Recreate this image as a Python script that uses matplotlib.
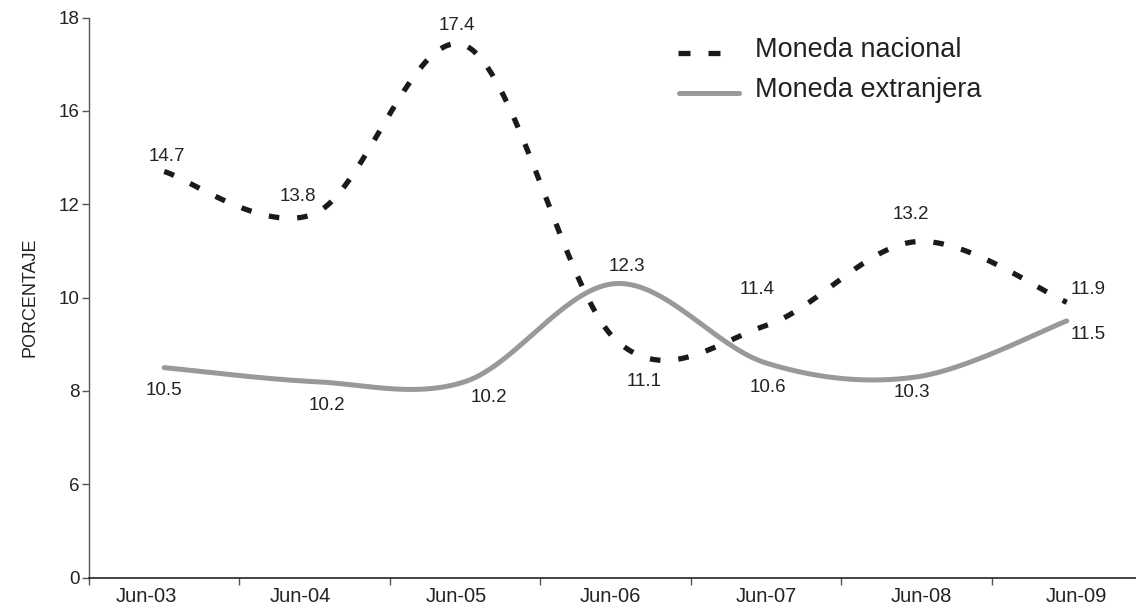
import numpy as np
import matplotlib
matplotlib.use("Agg")
import matplotlib.pyplot as plt
from matplotlib.lines import Line2D

plt.rcParams['font.family'] = ['Liberation Sans', 'DejaVu Sans']

categories = ["Jun-03", "Jun-04", "Jun-05", "Jun-06", "Jun-07", "Jun-08", "Jun-09"]
nacional = [14.7, 13.8, 17.4, 11.1, 11.4, 13.2, 11.9]
extranjera = [10.5, 10.2, 10.2, 12.3, 10.6, 10.3, 11.5]
ytick_pos = [6, 8, 10, 12, 14, 16, 18]
ytick_labels = ["0", "6", "8", "10", "12", "16", "18"]

# label offsets in pixels (dx, dy up) -- layout only
nac_off = [(3, 15), (-17, 17), (-8, 20), (29, -42), (-9, 36), (-5, 27), (21, 13)]
ext_off = [(0, -23), (12, -24), (24, -16), (11, 17), (2, -25), (-4, -16), (21, -14)]
# x positions (pixels) of the category labels -- layout only
xlabel_px = [146, 300, 456, 610, 766, 921, 1076]


def smooth(xs, ys, n=60):
    xs = np.asarray(xs, float)
    ys = np.asarray(ys, float)
    P = np.column_stack([xs, ys])
    out = []
    m = len(P)
    for i in range(m - 1):
        p0 = P[i - 1] if i > 0 else P[i]
        p1 = P[i]
        p2 = P[i + 1]
        p3 = P[i + 2] if i + 2 < m else P[i + 1]
        c1 = p1 + (p2 - p0) / 6.0
        c2 = p2 - (p3 - p1) / 6.0
        t = np.linspace(0, 1, n)[:, None]
        seg = ((1 - t) ** 3) * p1 + 3 * ((1 - t) ** 2) * t * c1 + 3 * (1 - t) * t ** 2 * c2 + t ** 3 * p2
        if i > 0:
            seg = seg[1:]
        out.append(seg)
    out = np.vstack(out)
    return out[:, 0], out[:, 1]


W, H = 1136, 610
PT = 0.72  # points per pixel at dpi 100
fig = plt.figure(figsize=(W / 100, H / 100), dpi=100)
ax_left, ax_right = 89, 1142
ax = fig.add_axes([ax_left / W, 1 - 577.7 / H, (ax_right - ax_left) / W, (577.7 - 17.5) / H])

x = np.arange(len(categories))
sx, sy = smooth(x, nacional)
ax.plot(sx, sy, color='#1a1a1a', lw=3.8, dashes=(2.0, 3.4), dash_capstyle='butt')
ex, ey = smooth(x, extranjera)
ax.plot(ex, ey, color='#999999', lw=3.6, solid_capstyle='round')

for i, v in enumerate(nacional):
    ax.annotate(f"{v:.1f}", (x[i], v), xytext=(nac_off[i][0] * PT, nac_off[i][1] * PT),
                textcoords='offset points', ha='center', va='center', fontsize=13.5, color='#222222')
for i, v in enumerate(extranjera):
    ax.annotate(f"{v:.1f}", (x[i], v), xytext=(ext_off[i][0] * PT, ext_off[i][1] * PT),
                textcoords='offset points', ha='center', va='center', fontsize=13.5, color='#222222')

ax.set_xlim(-0.5, 6.5)
ax.set_ylim(6, 18)
ax.set_yticks(ytick_pos)
ax.set_yticklabels(ytick_labels)
ax.set_xticks(np.arange(-0.5, 6.5, 1.0), minor=False)
ax.set_xticklabels([])
px_per_cat = (ax_right - ax_left) / 7.0
label_x = [(p - ax_left) / px_per_cat - 0.5 for p in xlabel_px]
ax.set_xticks(label_x, minor=True)
ax.set_xticklabels(categories, minor=True)
ax.tick_params(axis='x', which='major', length=5, width=1, color='#555555', direction='out')
ax.tick_params(axis='x', which='minor', length=0, labelsize=14.5, pad=7, labelcolor='#222222')
ax.tick_params(axis='y', length=5, width=1, color='#555555', labelsize=13.5, labelcolor='#222222', pad=2)
for s in ['top', 'right']:
    ax.spines[s].set_visible(False)
ax.spines['left'].set_color('#555555')
ax.spines['bottom'].set_color('#222222')
ax.spines['left'].set_linewidth(1)
ax.spines['bottom'].set_linewidth(1.2)
ax.patch.set_visible(False)

fig.text(30 / W, 1 - 297 / H, "PORCENTAJE", rotation=90, ha='center', va='center', fontsize=13, color='#222222')

# legend
for x0, x1 in [(678, 690), (708, 720)]:
    fig.add_artist(Line2D([x0 / W, x1 / W], [1 - 53 / H, 1 - 53 / H], color='#1a1a1a', lw=3.8,
                          solid_capstyle='butt', transform=fig.transFigure))
fig.add_artist(Line2D([679 / W, 739 / W], [1 - 93 / H, 1 - 93 / H], color='#999999', lw=3.6,
                      solid_capstyle='round', transform=fig.transFigure))
fig.text(755 / W, 1 - 50 / H, "Moneda nacional", ha='left', va='center', fontsize=19.5, color='#222222')
fig.text(755 / W, 1 - 90 / H, "Moneda extranjera", ha='left', va='center', fontsize=19.5, color='#222222')

fig.savefig("out.png", dpi=100)
